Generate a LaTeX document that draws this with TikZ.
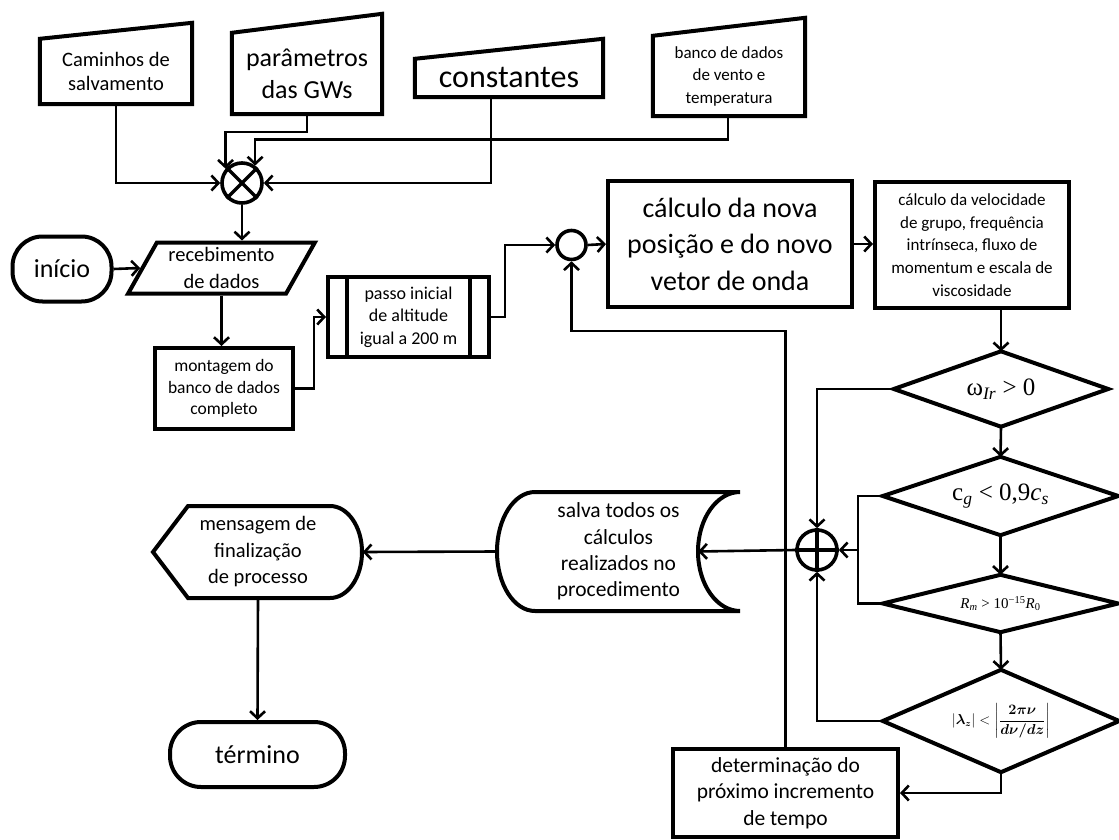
\documentclass[tikz,border=0pt]{standalone}
\usepackage{amsmath}
\usepackage[no-math]{fontspec}
\setmainfont{Carlito}
\newfontfamily\serifgr{Liberation Serif}
\usetikzlibrary{shapes.geometric,arrows.meta,calc}
\newcommand\fsz[2]{\fontsize{#1}{#2}\selectfont}
\begin{document}
\begin{tikzpicture}[x=1pt,y=-1pt,
  border/.style={line width=4pt},
  boxn/.style={draw, border, align=center, inner sep=1pt},
  plain/.style={align=center, inner sep=1pt},
  conn/.style={line width=2.6pt, -{Straight Barb[length=7pt,width=15pt]}},
  wire/.style={line width=2.6pt},
  junc/.style={circle, draw, line width=3.6pt, inner sep=0pt}
]
\fill[white] (0,0) rectangle (1119,840);
\useasboundingbox (0,0) rectangle (1119,840);

% ---------- manual inputs (top) ----------
\node[plain, minimum width=152, minimum height=65, font=\fsz{20.5}{24}] (cam) at (116,71.5) {Caminhos de\\salvamento};
\draw[border] (cam.south west) -- (cam.north west) -- ([yshift=16pt]cam.north east) -- (cam.south east) -- cycle;

\node[plain, minimum width=150, minimum height=81, font=\fsz{26}{32}] (par) at (307,73.5) {parâmetros\\das GWs};
\draw[border] (par.south west) -- (par.north west) -- ([yshift=19pt]par.north east) -- (par.south east) -- cycle;

\node[plain, minimum width=188, minimum height=38, font=\fsz{32}{36}] (con) at (509,78) {constantes};
\draw[border] (con.south west) -- (con.north west) -- ([yshift=20pt]con.north east) -- (con.south east) -- cycle;

\node[plain, minimum width=152, minimum height=83, font=\fsz{17}{22.5}] (ban) at (729,76) {banco de dados\\de vento e\\temperatura};
\draw[border] ([yshift=1.5pt]ban.south west) -- ([yshift=-1.5pt]ban.north west) -- ([yshift=16.5pt]ban.north east) -- ([yshift=1.5pt]ban.south east) -- cycle;

% ---------- junction X ----------
\node[junc, minimum size=40] (cross) at (242,183) {};
\draw[line width=3.4pt] (cross.45) -- (cross.225) (cross.135) -- (cross.315);

% ---------- left column ----------
\node[boxn, rounded corners=30pt, minimum width=99, minimum height=65, font=\fsz{26}{32}] (ini) at (62,269) {início};
\node[draw, border, trapezium, trapezium left angle=60, trapezium right angle=120, trapezium stretches=true,
      minimum width=187, minimum height=51, inner sep=0pt, align=center, font=\fsz{20.5}{26.5}] (rec) at (221.5,268) {recebimento\\de dados};
\node[boxn, minimum width=138, minimum height=81, font=\fsz{17.5}{21.5}] (mon) at (224,388.5) {montagem do\\banco de dados\\completo};
\node[boxn, minimum width=161, minimum height=80, font=\fsz{18}{22.5}] (pas) at (408.5,317) {passo inicial\\de altitude\\igual a 200 m};
\draw[border] ([xshift=21pt]pas.north west) -- ([xshift=21pt]pas.south west)
              ([xshift=-21pt]pas.north east) -- ([xshift=-21pt]pas.south east);

\node[junc, minimum size=29] (sm) at (571.5,245) {};
\node[boxn, minimum width=244, minimum height=126, font=\fsz{28}{36.5}] (calc) at (730,244) {cálculo da nova\\posição e do novo\\vetor de onda};
\node[boxn, minimum width=194, minimum height=126, font=\fsz{17}{22.7}] (vel) at (972,245) {cálculo da velocidade\\de grupo, frequência\\intrínseca, fluxo de\\momentum e escala de\\viscosidade};

% ---------- decisions ----------
\node[plain, minimum width=214, minimum height=75, font=\serifgr\fsz{25}{28}] (d1) at (1001,389) {ω\textsubscript{\itshape Ir} > 0};
\draw[border] (d1.north) -- (d1.east) -- (d1.south) -- (d1.west) -- cycle;
\node[plain, minimum width=235, minimum height=78, font=\serifgr\fsz{25}{28}] (d2) at (1000.5,496) {c\textsubscript{\itshape g} < 0,9\textit{c}\textsubscript{\itshape s}};
\draw[border] (d2.north) -- (d2.east) -- (d2.south) -- (d2.west) -- cycle;
\node[plain, minimum width=235, minimum height=57, font=\serifgr\fsz{15}{18}] (d3) at (1000.5,603.5) {\textit{R}\textsubscript{\itshape m} > 10\textsuperscript{−15}\textit{R}\textsubscript{0}};
\draw[border] (d3.north) -- (d3.east) -- (d3.south) -- (d3.west) -- cycle;
\node[plain, minimum width=236, minimum height=102, font=\fsz{13.5}{15}] (d4) at (1001,721) {$|\boldsymbol{\lambda_z}| < \left|\dfrac{\boldsymbol{2\pi\nu}}{\boldsymbol{d\nu/dz}}\right|$};
\draw[border] (d4.north) -- (d4.east) -- (d4.south) -- (d4.west) -- cycle;

\node[junc, minimum size=40] (plus) at (817,550) {};
\draw[line width=3.4pt] (plus.north) -- (plus.south) (plus.west) -- (plus.east);

\node[boxn, minimum width=225, minimum height=88, font=\fsz{21.5}{26.7}] (det) at (785.5,793) {determinação do\\próximo incremento\\de tempo};

% ---------- stored data ----------
\node[plain, minimum width=243, minimum height=119, font=\fsz{21.5}{26.3}] (sal) at (618.5,551.5) {salva todos os\\cálculos\\realizados no\\procedimento};
\draw[border] (535,492) -- (740,492)
  .. controls (716.8,492) and (698,518.6) .. (698,551.5)
  .. controls (698,584.4) and (716.8,611) .. (740,611)
  -- (535,611)
  .. controls (514,611) and (497,584.4) .. (497,551.5)
  .. controls (497,518.6) and (514,492) .. (535,492) -- cycle;

% ---------- display ----------
\node[plain, minimum width=209, minimum height=92, font=\fsz{20.5}{26.5}] (msg) at (258,552) {mensagem de\\finalização\\de processo};
\draw[border] (153,552) -- (188,506) -- (330,506)
  .. controls (347.7,506) and (362,526.6) .. (362,552)
  .. controls (362,577.4) and (347.7,598) .. (330,598)
  -- (188,598) -- cycle;

\node[boxn, rounded corners=31pt, minimum width=175, minimum height=65, font=\fsz{26}{32}] (term) at (257.5,754.5) {término};

% ---------- connectors ----------
\draw[conn] (cam.south) |- (cross.west);
\draw[conn] (par.south) -- ++(0,18) -| (cross.139);
\draw[conn] ([xshift=-1pt]ban.south) -- ++(0,22) -| (cross.53);
\draw[conn] ([xshift=-18pt]con.south) |- (cross.east);
\draw[conn] (cross.south) -- (cross.south |- rec.north);
\draw[conn] (ini.east) -- (rec.west);
\draw[conn] (rec.south) -- (rec.south |- mon.north);
\draw[conn] (mon.east) -- ++(19,0) |- (pas.west);
\draw[conn] (pas.east) -- ++(14,0) |- (sm.west);
\draw[conn] (sm.east) -- (calc.west);
\draw[conn] (calc.east) -- (calc.east -| vel.west);
\draw[conn] (d1.north |- vel.south) -- (d1.north);
\draw[conn] (d1.south) -- (d2.north);
\draw[conn] (d2.south) -- (d3.north);
\draw[conn] (d3.south) -- (d4.north);
\draw[conn] (d1.west) -| (plus.north);
\draw[wire] (d2.west) -- ++(-25,0) |- (d3.west);
\draw[conn] ([xshift=-25pt]d2.west |- plus.east) -- (plus.east);
\draw[conn] (d4.west) -| (plus.south);
\draw[conn] (d4.south) |- (det.east);
\draw[conn] (det.north) -- ++(0,-416) -| (sm.south);
\draw[conn] (plus.west) -- ([xshift=-42pt]sal.east);
\draw[conn] (sal.west) -- (msg.east);
\draw[conn] (msg.south) -- (term.north);
\end{tikzpicture}
\end{document}
